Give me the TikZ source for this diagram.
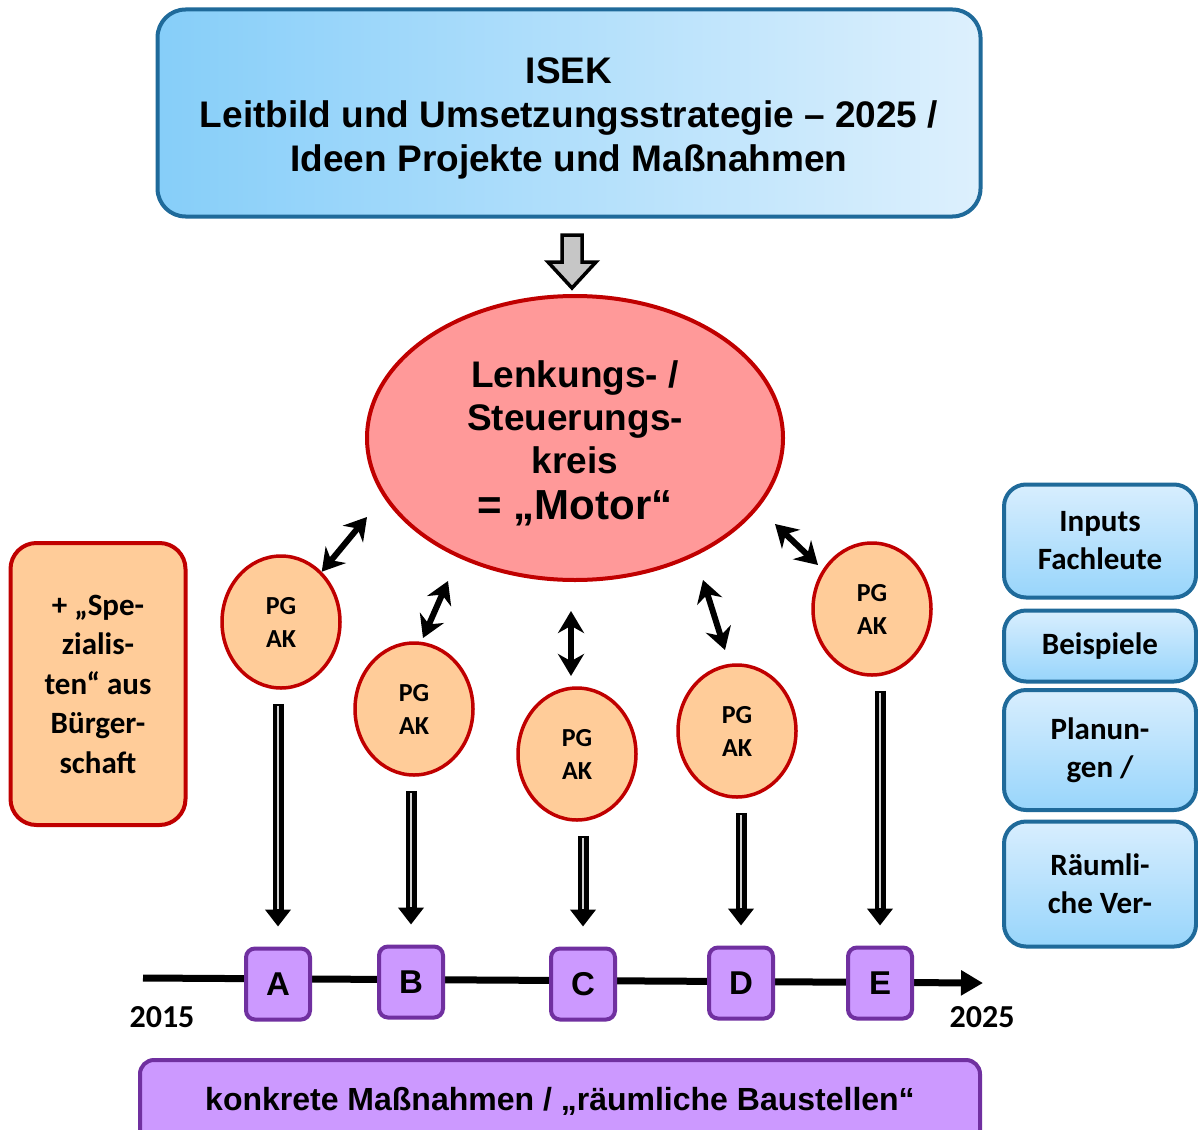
\documentclass[tikz,border=0pt]{standalone}
\usepackage{fontspec}
\setmainfont{Liberation Sans}
\newfontfamily\carlito{Carlito}
\usetikzlibrary{arrows.meta,shapes.geometric}

\definecolor{frameblue}{HTML}{1F6A9A}
\definecolor{skyleft}{HTML}{86CEF9}
\definecolor{skyright}{HTML}{DDF0FD}
\definecolor{skytop}{HTML}{D8EEFE}
\definecolor{skybottom}{HTML}{98D5FB}
\definecolor{motorred}{HTML}{FF9999}
\definecolor{darkred}{HTML}{C00000}
\definecolor{peach}{HTML}{FFCC99}
\definecolor{lilac}{HTML}{CC99FF}
\definecolor{violet}{HTML}{7030A0}

\begin{document}
\begin{tikzpicture}[x=1pt,y=-1pt,
    isek box/.style={rectangle,rounded corners=28pt,draw=frameblue,line width=4pt,
      left color=skyleft,right color=skyright,minimum width=823pt,minimum height=207pt,
      align=center,font=\bfseries\fontsize{37}{44}\selectfont},
    motor/.style={ellipse,draw=darkred,line width=4pt,fill=motorred,
      minimum width=416pt,minimum height=284pt,align=center,inner sep=0pt,
      font=\bfseries\fontsize{37}{43}\selectfont},
    pg node/.style={ellipse,draw=darkred,line width=3.5pt,fill=peach,
      minimum width=118pt,minimum height=132pt,align=center,inner sep=0pt,
      font=\carlito\bfseries\fontsize{26}{33}\selectfont},
    side box/.style={rectangle,rounded corners=22pt,draw=frameblue,line width=4pt,
      top color=skytop,bottom color=skybottom,minimum width=192pt,align=center,
      font=\carlito\bfseries\fontsize{31}{38}\selectfont},
    citizen box/.style={rectangle,rounded corners=26pt,draw=darkred,line width=4pt,
      fill=peach,minimum width=175pt,minimum height=282pt,align=center,
      font=\carlito\bfseries\fontsize{31}{39.5}\selectfont},
    site box/.style={rectangle,rounded corners=9pt,draw=violet,line width=4pt,
      fill=lilac,minimum width=64pt,minimum height=71pt,
      font=\bfseries\fontsize{33}{38}\selectfont},
    year/.style={font=\carlito\bfseries\fontsize{32}{36}\selectfont},
    both arrow/.style={line width=6pt,{Stealth[length=22pt,width=26pt]}-{Stealth[length=22pt,width=26pt]}},
    down arrow/.style={line width=11pt,-{Triangle[length=17pt,width=25pt]},
      shorten <=14pt,shorten >=20pt},
    down core/.style={line width=1.5pt,draw=gray!35,shorten <=16pt,shorten >=38pt}]

  \useasboundingbox (0,0) rectangle (1198,1129);

  % strategy box and arrow
  \node[isek box] (isek) at (569,113) {};
  \node[align=center,font=\bfseries\fontsize{37}{44}\selectfont] (isektext) at (569,118)
    {ISEK\\Leitbild und Umsetzungsstrategie – 2025 /\\Ideen Projekte und Maßnahmen};
  \draw[line width=3.5pt,fill=gray!45,line join=miter]
    (562,235) -- (582,235) -- (582,262) -- (596,262) -- (572,288)
    -- (548,262) -- (562,262) -- cycle;

  % steering circle
  \node[motor] (motor) at (575,438) {};
  \node[align=center,font=\bfseries\fontsize{37}{43}\selectfont] (motortext) at (575,443)
    {Lenkungs- /\\Steuerungs-\\kreis\\[3pt]{\fontsize{42}{46}\selectfont = „Motor“}};

  % project groups
  \node[pg node] (pg1) at (281,622) {PG\\AK};
  \node[pg node] (pg2) at (414,709) {PG\\AK};
  \node[pg node] (pg3) at (577,754) {PG\\AK};
  \node[pg node] (pg4) at (737,731) {PG\\AK};
  \node[pg node] (pg5) at (872,609) {PG\\AK};

  \coordinate (m1) at (367,517);
  \coordinate (m2) at (448,581);
  \coordinate (m3) at (571,611);
  \coordinate (m4) at (703,580);
  \coordinate (m5) at (775,524);
  \coordinate (g2) at (423,638);
  \coordinate (g3) at (571,676);
  \coordinate (g4) at (725,650);
  \coordinate (g5) at (818,565);
  \draw[both arrow] (pg1.51) -- (m1);
  \draw[both arrow] (g2) -- (m2);
  \draw[both arrow] (g3) -- (m3);
  \draw[both arrow] (g4) -- (m4);
  \draw[both arrow] (g5) -- (m5);

  % timeline
  \coordinate (t0) at (143,978);
  \coordinate (t1) at (983,983);
  \draw[line width=7pt,-{Triangle[length=22pt,width=24pt]}] (t0) -- (t1);
  \node[year] (y0) at (162,1017) {2015};
  \node[year] (y1) at (982,1017) {2025};

  \node[site box] (A) at (278,984) {A};
  \node[site box] (B) at (411,982) {B};
  \node[site box] (C) at (583,984) {C};
  \node[site box] (D) at (741,983) {D};
  \node[site box] (E) at (880,983) {E};

  \foreach \p/\b in {pg1/A,pg2/B,pg3/C,pg4/D,pg5/E}{
    \draw[down arrow] (\b.north |- \p.south) -- (\b.north);
    \draw[down core] (\b.north |- \p.south) -- (\b.north);
  }

  \node[rectangle,rounded corners=14pt,draw=violet,line width=4pt,fill=lilac,
    minimum width=840pt,minimum height=86pt,
    font=\bfseries\fontsize{32}{36}\selectfont] (works) at (560,1103)
    {\raisebox{8pt}{konkrete Maßnahmen / „räumliche Baustellen“}};

  % citizens
  \node[citizen box] (citizens) at (98,684)
    {+ „Spe-\\zialis-\\ten“ aus\\Bürger-\\schaft};

  % inputs
  \node[side box,minimum height=113pt] (inputs) at (1100,541) {Inputs\\Fachleute};
  \node[side box,minimum height=71pt] (examples) at (1100,646) {Beispiele};
  \node[side box,minimum height=120pt] (plans) at (1100,750) {Planun-\\gen /};
  \node[side box,minimum height=125pt] (spatial) at (1100,884) {Räumli-\\che Ver-};
\end{tikzpicture}
\end{document}
